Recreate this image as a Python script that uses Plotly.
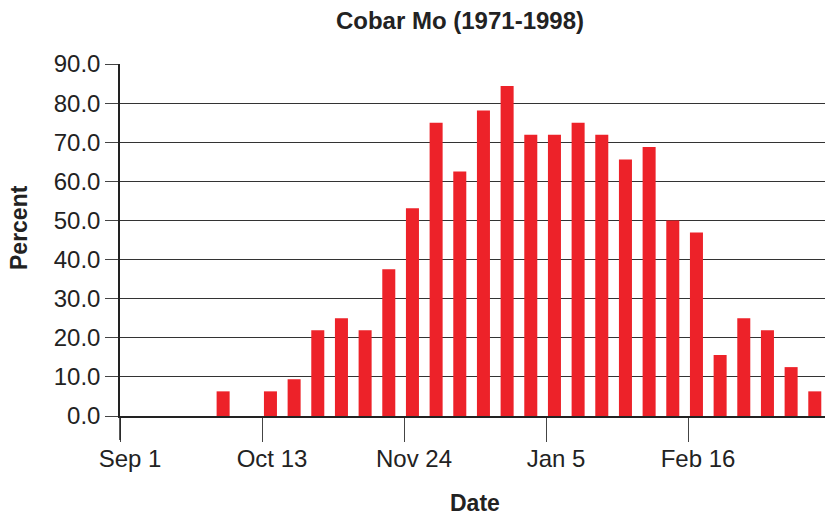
import plotly.graph_objects as go
import pandas as pd

# Week start dates (one bar per week, Sep 1 to Mar 23)
week_starts = pd.date_range("1997-09-01", periods=30, freq="7D")
percent = [0.0, 0.0, 0.0, 0.0, 6.3, 0.0, 6.3, 9.4, 21.9, 25.0,
           21.9, 37.5, 53.1, 75.0, 62.5, 78.1, 84.4, 71.9, 71.9, 75.0,
           71.9, 65.6, 68.8, 50.0, 46.9, 15.6, 25.0, 21.9, 12.5, 6.3]

tick_dates = ["1997-09-01", "1997-10-13", "1997-11-24", "1998-01-05", "1998-02-16", "1998-03-30"]
tick_labels = ["Sep 1", "Oct 13", "Nov 24", "Jan 5", "Feb 16", ""]

font = "Liberation Sans, Arial, Helvetica, sans-serif"
ink = "#222"
week_ms = 7 * 24 * 3600 * 1000

# page has an 8px body margin, so the figure is sized to fit inside it
W, H = 825, 508

fig = go.Figure()
fig.add_trace(go.Bar(
    x=week_starts, y=percent,
    xperiod=week_ms, xperiodalignment="middle",
    marker=dict(color="#ED2229", line=dict(width=0)),
    width=week_ms * 0.55,
))

fig.update_layout(
    width=W, height=H,
    margin=dict(l=112, r=3, t=56, b=100),
    plot_bgcolor="white", paper_bgcolor="white",
    showlegend=False,
    font=dict(family=font, color=ink, size=24),
    title=dict(text="<b>Cobar Mo (1971-1998)</b>", x=452 / W, xanchor="center", xref="container",
               y=1 - 13 / H, yanchor="middle", font=dict(size=24, color=ink)),
)
fig.update_xaxes(
    type="date", range=["1997-09-01", "1998-03-30"], automargin=False,
    tickvals=tick_dates, ticktext=tick_labels,
    ticks="outside", ticklen=24, tickwidth=1, tickcolor="#444",
    showline=True, linecolor=ink, linewidth=1.5,
    showgrid=False, tickfont=dict(size=24, color=ink),
    ticklabelshift=10, ticklabelstandoff=-4,
)
fig.update_yaxes(
    range=[0, 90], dtick=10, tickformat=".1f", automargin=False,
    ticks="outside", ticklen=13, tickwidth=1, tickcolor="#444",
    showline=True, linecolor=ink, linewidth=1.5,
    showgrid=True, gridcolor="#333", gridwidth=1, zeroline=False,
    tickfont=dict(size=24, color=ink), ticklabelstandoff=0,
)
# y axis line continues below the x axis
fig.add_shape(type="line", xref="paper", yref="paper", x0=0, x1=0, y0=0, y1=-24 / 352,
              line=dict(color=ink, width=1.5))

# axis titles
fig.add_annotation(text="<b>Date</b>", xref="paper", x=0.5, yref="paper", y=-87 / 352,
                   yanchor="middle", showarrow=False, font=dict(size=23, color=ink))
fig.add_annotation(text="<b>Percent</b>", xref="paper", x=-101 / 710, xanchor="center",
                   yref="paper", y=(416 - 228) / 352, yanchor="middle", textangle=-90,
                   showarrow=False, font=dict(size=23, color=ink))

fig.write_html("out.html")
